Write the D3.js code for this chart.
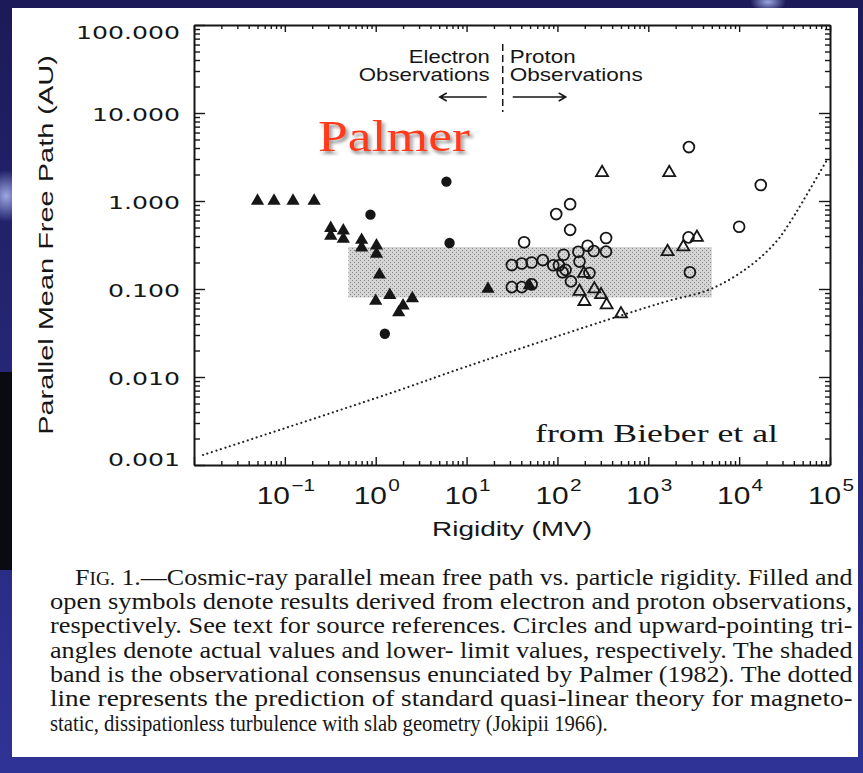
<!DOCTYPE html>
<html>
<head>
<meta charset="utf-8">
<title>Cosmic-ray parallel mean free path vs. rigidity</title>
<script src="https://cdn.jsdelivr.net/npm/d3@7"></script>
<style>
  html, body { margin: 0; padding: 0; background: #1f1d60; }
  svg { display: block; }
</style>
</head>
<body>
<svg id="slide" width="863" height="773"></svg>
<script>
// ---- data: rigidity in MV, parallel mean free path in AU ----
// filled circles: electron observations, actual values
const electronActual = [
  [0.875, 0.70], [1.26, 0.031], [6.0, 1.66], [6.5, 0.333]
];
// filled triangles: electron observations, lower limits
const electronLowerLimit = [
  [0.050, 1.0], [0.076, 1.0], [0.123, 1.0], [0.21, 1.0],
  [0.32, 0.49], [0.32, 0.40],
  [0.44, 0.46], [0.44, 0.37],
  [0.70, 0.36], [0.70, 0.295],
  [1.02, 0.31], [1.02, 0.25],
  [1.10, 0.145],
  [1.00, 0.073], [1.43, 0.085], [2.53, 0.078], [2.0, 0.0645], [1.79, 0.054],
  [17.2, 0.10], [49, 0.11]
];
// open circles: proton observations, actual values
const protonActual = [
  [31.5, 0.187], [40.5, 0.195], [52, 0.20], [69, 0.213], [90, 0.186], [104, 0.186],
  [31.5, 0.105], [40.5, 0.105], [52, 0.113],
  [43, 0.34], [97, 0.71], [138, 0.92], [138, 0.47],
  [117, 0.245], [114, 0.155], [141, 0.122], [123, 0.165],
  [170, 0.265], [175, 0.205], [215, 0.31], [251, 0.27], [225, 0.152],
  [343, 0.38], [343, 0.266],
  [2800, 4.1], [17300, 1.52], [10000, 0.51], [2770, 0.386], [2870, 0.155]
];
// open triangles: proton observations, lower limits
const protonLowerLimit = [
  [310, 2.1], [1700, 2.1], [1630, 0.266], [2430, 0.30], [3430, 0.386],
  [175, 0.094], [198, 0.072], [255, 0.10], [302, 0.086], [348, 0.066], [501, 0.052], [196, 0.15]
];
// Palmer (1982) consensus band
const bandRigidity = [0.5, 5000];
const bandPath = [0.08, 0.3];
// quasi-linear theory prediction (dotted curve)
const qltPrediction = [
  [0.0126, 0.0013], [1.36, 0.0064], [9.9, 0.0131], [501, 0.05], [1570, 0.072],
  [4890, 0.1], [12900, 0.18], [25300, 0.34], [35400, 0.55], [49600, 0.97], [93300, 2.97]
];
// rigidity separating electron and proton observations
const speciesBoundary = 25;

const xTickExponents = [-1, 0, 1, 2, 3, 4, 5];
const yTickValues = [100, 10, 1, 0.1, 0.01, 0.001];
const yTickLabels = ["100.000", "10.000", "1.000", "0.100", "0.010", "0.001"];

const captionLines = [
  "open symbols denote results derived from electron and proton observations,",
  "respectively. See text for source references. Circles and upward-pointing tri-",
  "angles denote actual values and lower- limit values, respectively. The shaded",
  "band is the observational consensus enunciated by Palmer (1982). The dotted",
  "line represents the prediction of standard quasi-linear theory for magneto-",
  "static, dissipationless turbulence with slab geometry (Jokipii 1966)."
];

// ---- layout ----
const W = 863, H = 773;
const plot = { left: 194, right: 830, top: 25, bottom: 465 };
const SANS = "'Liberation Sans', Arial, sans-serif";
const ROUND = "'DejaVu Sans', sans-serif";
const SERIF = "'Liberation Serif', 'Times New Roman', serif";
const INK = "#161616";

const svg = d3.select("#slide");
const defs = svg.append("defs");

// slide backdrop
const bg = defs.append("linearGradient").attr("id", "bg")
  .attr("x1", 0).attr("y1", 0).attr("x2", 0).attr("y2", 1);
bg.append("stop").attr("offset", 0).attr("stop-color", "#1c1a58");
bg.append("stop").attr("offset", 1).attr("stop-color", "#2f3396");
const glow = defs.append("radialGradient").attr("id", "glow");
glow.append("stop").attr("offset", 0).attr("stop-color", "#a9b6f0").attr("stop-opacity", 0.9);
glow.append("stop").attr("offset", 1).attr("stop-color", "#a9b6f0").attr("stop-opacity", 0);

svg.append("rect").attr("width", W).attr("height", H).attr("fill", "url(#bg)");
svg.append("ellipse").attr("cx", 6).attr("cy", 196).attr("rx", 22).attr("ry", 26).attr("fill", "url(#glow)");
svg.append("ellipse").attr("cx", 768).attr("cy", 2).attr("rx", 18).attr("ry", 10).attr("fill", "url(#glow)");
svg.append("rect").attr("x", 0).attr("y", 372).attr("width", 12).attr("height", 198).attr("fill", "#0a0a12");

// white page
svg.append("rect").attr("x", 12).attr("y", 8).attr("width", 846).attr("height", 749).attr("fill", "#ffffff");

// stippled fill for the consensus band
const stip = defs.append("pattern").attr("id", "stipple")
  .attr("patternUnits", "userSpaceOnUse").attr("width", 4).attr("height", 4);
stip.append("rect").attr("width", 4).attr("height", 4).attr("fill", "#d4d4d4");
stip.append("rect").attr("x", 0).attr("y", 0).attr("width", 1).attr("height", 1).attr("fill", "#8a8a8a");
stip.append("rect").attr("x", 2).attr("y", 2).attr("width", 1).attr("height", 1).attr("fill", "#8a8a8a");

// drop shadow for the red title
const sh = defs.append("filter").attr("id", "shadow")
  .attr("x", "-10%").attr("y", "-20%").attr("width", "130%").attr("height", "150%");
sh.append("feDropShadow").attr("dx", 2).attr("dy", 3).attr("stdDeviation", 1.6)
  .attr("flood-color", "#000").attr("flood-opacity", 0.45);

// ---- scales ----
const x = d3.scaleLog().domain([0.01, 1e5]).range([plot.left, plot.right]);
const y = d3.scaleLog().domain([0.001, 100]).range([plot.bottom, plot.top]);
const isMajor = v => Math.abs(Math.log10(v) - Math.round(Math.log10(v))) < 1e-9;

// text helper: horizontally stretched glyphs, either by factor k or to a target width
function stretchedText(parent, str, o) {
  const t = parent.append("text")
    .attr("font-family", o.family).attr("font-size", o.size)
    .attr("fill", o.fill || INK).attr("text-anchor", o.anchor || "start")
    .text(str);
  let k = o.k || 1;
  if (o.width) k = o.width / t.node().getComputedTextLength();
  t.attr("transform", `translate(${o.x},${o.y}) rotate(${o.rotate || 0}) scale(${k},1)`);
  return t;
}

// ---- band ----
svg.append("rect")
  .attr("x", x(bandRigidity[0])).attr("y", y(bandPath[1]))
  .attr("width", x(bandRigidity[1]) - x(bandRigidity[0]))
  .attr("height", y(bandPath[0]) - y(bandPath[1]))
  .attr("fill", "url(#stipple)");

// ---- QLT curve ----
const qltLine = d3.line().x(d => x(d[0])).y(d => y(d[1])).curve(d3.curveCatmullRom.alpha(0.5));
svg.append("path").attr("d", qltLine(qltPrediction))
  .attr("fill", "none").attr("stroke", "#222").attr("stroke-width", 2.1)
  .attr("stroke-linecap", "round").attr("stroke-dasharray", "0.1 4.6");

// ---- frame axes with inward ticks ----
function drawAxis(gen, scale, tx, ty, attr, majorLen, minorLen) {
  const g = svg.append("g").attr("transform", `translate(${tx},${ty})`)
    .call(gen(scale).tickValues(scale.ticks()).tickFormat("").tickSizeOuter(0).tickSizeInner(0));
  g.selectAll(".tick text").remove();
  g.select(".domain").attr("stroke", INK).attr("stroke-width", 2);
  g.selectAll(".tick line").attr("stroke", INK).attr("stroke-width", 1.4)
    .attr(attr, d => (isMajor(d) ? majorLen : minorLen));
}
drawAxis(d3.axisBottom, x, 0, plot.bottom, "y2", -8, -4);
drawAxis(d3.axisTop, x, 0, plot.top, "y2", 7, 4);
drawAxis(d3.axisLeft, y, plot.left, 0, "x2", 11, 6);
drawAxis(d3.axisRight, y, plot.right, 0, "x2", -11, -5);

// ---- tick labels ----
yTickValues.forEach((v, i) => {
  const cy = Math.max(plot.top + 7, Math.min(plot.bottom - 6, y(v) + 1));
  stretchedText(svg, yTickLabels[i], { x: plot.left - 14, y: cy + 6.5, anchor: "end",
    family: ROUND, size: 18, k: 1.4 });
});
xTickExponents.forEach(e => {
  const t = svg.append("text").attr("font-family", SANS).attr("font-size", 23)
    .attr("fill", INK).attr("text-anchor", "middle")
    .attr("transform", `translate(${x(Math.pow(10, e)) + 1},504) scale(1.3,1)`);
  t.append("tspan").text("10");
  t.append("tspan").attr("font-size", 16).attr("dy", -13).attr("dx", 1)
    .text(e < 0 ? "\u2212" + Math.abs(e) : String(e));
});

// ---- axis titles ----
stretchedText(svg, "Rigidity (MV)", { x: (plot.left + plot.right) / 2, y: 536, anchor: "middle",
  family: SANS, size: 20, width: 160 });
stretchedText(svg, "Parallel Mean Free Path (AU)", { x: 53, y: (plot.top + plot.bottom) / 2,
  anchor: "middle", rotate: -90, family: SANS, size: 20, width: 380 });

// ---- markers ----
const marks = svg.append("g");
const place = d => `translate(${x(d[0])},${y(d[1])})`;
marks.selectAll(".p-open").data(protonActual).join("path")
  .attr("d", d3.symbol(d3.symbolCircle, 92)()).attr("transform", place)
  .attr("fill", "none").attr("stroke", INK).attr("stroke-width", 1.8);
marks.selectAll(".p-lim").data(protonLowerLimit).join("path")
  .attr("d", d3.symbol(d3.symbolTriangle, 62)()).attr("transform", place)
  .attr("fill", "none").attr("stroke", INK).attr("stroke-width", 1.8);
marks.selectAll(".e-lim").data(electronLowerLimit).join("path")
  .attr("d", d3.symbol(d3.symbolTriangle, 76)()).attr("transform", place)
  .attr("fill", INK);
marks.selectAll(".e-act").data(electronActual).join("path")
  .attr("d", d3.symbol(d3.symbolCircle, 84)()).attr("transform", place)
  .attr("fill", INK);

// ---- electron / proton annotation ----
const xb = x(speciesBoundary);
const ann = svg.append("g").attr("stroke", INK).attr("fill", "none").attr("stroke-width", 1.5);
ann.append("line").attr("x1", xb).attr("x2", xb).attr("y1", 44).attr("y2", 112)
  .attr("stroke-dasharray", "7 4");
ann.append("path").attr("d", `M${xb - 16},97H${xb - 63}M${xb - 56},93L${xb - 63},97L${xb - 56},101`);
ann.append("path").attr("d", `M${xb + 10},97H${xb + 63}M${xb + 56},93L${xb + 63},97L${xb + 56},101`);
stretchedText(svg, "Electron", { x: xb - 13, y: 63, anchor: "end", family: SANS, size: 18, width: 81 });
stretchedText(svg, "Observations", { x: xb - 13, y: 81, anchor: "end", family: SANS, size: 18, width: 131 });
stretchedText(svg, "Proton", { x: xb + 7, y: 63, anchor: "start", family: SANS, size: 18, width: 66 });
stretchedText(svg, "Observations", { x: xb + 7, y: 81, anchor: "start", family: SANS, size: 18, width: 133 });

// ---- overlay labels ----
stretchedText(svg, "Palmer", { x: 318, y: 151, family: SERIF, size: 45, width: 152, fill: "#ff3b1e" })
  .attr("filter", "url(#shadow)");
stretchedText(svg, "from Bieber et al", { x: 535, y: 442, family: SERIF, size: 26, width: 243 });

// ---- caption ----
const cap = svg.append("g");
const first = cap.append("text").attr("font-family", SERIF).attr("font-size", 24).attr("fill", INK);
first.append("tspan").text("F");
first.append("tspan").attr("font-size", 18).text("IG.");
first.append("tspan").text(" 1.\u2014Cosmic-ray parallel mean free path vs. particle rigidity. Filled and");
first.attr("transform", `translate(75,585) scale(${778 / first.node().getComputedTextLength()},1)`);
captionLines.forEach((line, i) => {
  const last = i === captionLines.length - 1;
  stretchedText(cap, line, { x: 50, y: 609 + i * 24.3, family: SERIF, size: 24,
    width: last ? 558 : 803 });
});
</script>
</body>
</html>
